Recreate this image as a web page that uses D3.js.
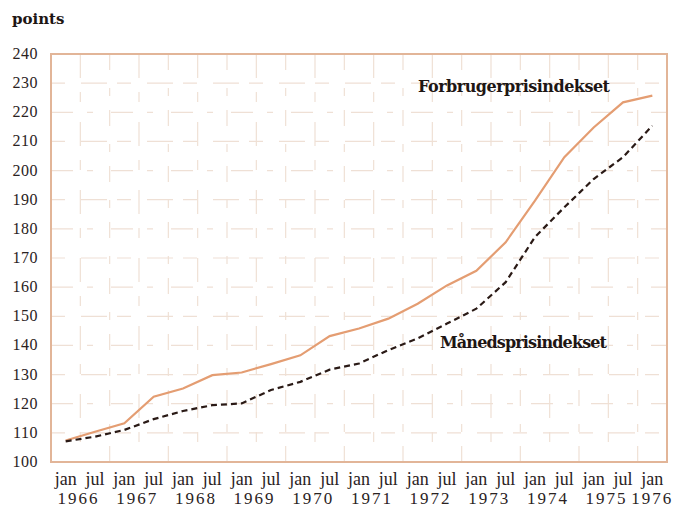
<!DOCTYPE html>
<html>
<head>
<meta charset="utf-8">
<script src="https://cdn.jsdelivr.net/npm/d3@7"></script>
<style>
  body { margin: 0; background: #fff; }
  text { font-family: "Liberation Serif", "DejaVu Serif", serif; fill: #2a2222; }
  text.bold { font-family: "DejaVu Serif", serif; font-weight: bold; fill: #1e1614; }
</style>
</head>
<body>
<svg width="673" height="512"></svg>
<script>
// half-year points, jan 1966 .. jan 1976
const periods = ["jan 1966", "jul 1966", "jan 1967", "jul 1967", "jan 1968", "jul 1968",
  "jan 1969", "jul 1969", "jan 1970", "jul 1970", "jan 1971", "jul 1971", "jan 1972",
  "jul 1972", "jan 1973", "jul 1973", "jan 1974", "jul 1974", "jan 1975", "jul 1975", "jan 1976"];

const forbruger = [107.4, 110.4, 113.3, 122.4, 125.2, 129.8, 130.7, 133.6, 136.6, 143.2,
  145.8, 149.2, 154.3, 160.6, 165.6, 175.4, 189.7, 204.6, 214.8, 223.4, 225.7];

const maaneds = [107.1, 108.7, 111.0, 114.7, 117.5, 119.5, 120.1, 124.7, 127.5, 131.7,
  133.8, 138.4, 142.4, 147.5, 152.6, 161.7, 177.2, 187.4, 197.1, 204.6, 215.4];

const yTicks = [100, 110, 120, 130, 140, 150, 160, 170, 180, 190, 200, 210, 220, 230, 240];
const years = ["1966", "1967", "1968", "1969", "1970", "1971", "1972", "1973", "1974", "1975", "1976"];

const toYear = p => {
  const [m, y] = p.split(" ");
  return +y + (m === "jul" ? 0.5 : 0);
};

const plotLeft = 51, plotRight = 667, plotTop = 54, plotBottom = 462;

const xScale = d3.scaleLinear().domain([1965.75, 1976.25]).range([plotLeft, plotRight]);
const yScale = d3.scaleLinear().domain([100, 240]).range([plotBottom, plotTop]);

const svg = d3.select("svg");

const gridColor = "#efe0d5";

// horizontal grid, broken like the printed paper grid
svg.append("g")
  .selectAll("line")
  .data(yTicks.slice(1, -1))
  .enter()
  .append("line")
  .attr("x1", plotLeft).attr("x2", plotRight)
  .attr("y1", d => yScale(d)).attr("y2", d => yScale(d))
  .attr("stroke", gridColor)
  .attr("stroke-width", 1.2)
  .attr("stroke-dasharray", (d, i) => i % 2 ? "22,14,6,18" : "14,16,26,10");

// vertical grid sits between the jan/jul ticks
const gridX = d3.range(1966.25, 1976, 0.5);
svg.append("g")
  .selectAll("line")
  .data(gridX)
  .enter()
  .append("line")
  .attr("x1", d => xScale(d)).attr("x2", d => xScale(d))
  .attr("y1", plotTop).attr("y2", plotBottom)
  .attr("stroke", gridColor)
  .attr("stroke-width", 1.2)
  .attr("stroke-dasharray", (d, i) => i % 2 ? "16,18,8,14" : "24,14,10,20");

// frame
svg.append("rect")
  .attr("x", plotLeft).attr("y", plotTop)
  .attr("width", plotRight - plotLeft).attr("height", plotBottom - plotTop)
  .attr("fill", "none")
  .attr("stroke", "#e2b598")
  .attr("stroke-width", 2);

const line = d3.line()
  .x((d, i) => xScale(toYear(periods[i])))
  .y(d => yScale(d));

svg.append("path")
  .datum(forbruger)
  .attr("fill", "none")
  .attr("stroke", "#e49d72")
  .attr("stroke-width", 2.2)
  .attr("d", line);

svg.append("path")
  .datum(maaneds)
  .attr("fill", "none")
  .attr("stroke", "#2a1a16")
  .attr("stroke-width", 2.2)
  .attr("stroke-dasharray", "6,4")
  .attr("d", line);

// y labels
svg.append("g")
  .selectAll("text")
  .data(yTicks)
  .enter()
  .append("text")
  .attr("x", 38)
  .attr("y", d => yScale(d) + 5)
  .attr("text-anchor", "end")
  .attr("font-size", 16)
  .attr("letter-spacing", 0.5)
  .text(d => d);

svg.append("text")
  .attr("class", "bold")
  .attr("x", 12).attr("y", 24)
  .attr("font-size", 15)
  .text("points");

// x labels
svg.append("g")
  .selectAll("text")
  .data(periods)
  .enter()
  .append("text")
  .attr("x", d => xScale(toYear(d)))
  .attr("y", 485)
  .attr("text-anchor", "middle")
  .attr("font-size", 18)
  .text(d => d.split(" ")[0]);

svg.append("g")
  .selectAll("text")
  .data(years)
  .enter()
  .append("text")
  .attr("x", d => xScale(d === "1976" ? +d : +d + 0.22))
  .attr("y", 504)
  .attr("text-anchor", "middle")
  .attr("font-size", 17)
  .attr("letter-spacing", 2)
  .text(d => d);

// series labels
svg.append("text")
  .attr("class", "bold")
  .attr("x", 418).attr("y", 92)
  .attr("font-size", 16)
  .attr("textLength", 192)
  .text("Forbrugerprisindekset");

svg.append("text")
  .attr("class", "bold")
  .attr("x", 440).attr("y", 348)
  .attr("font-size", 16)
  .attr("textLength", 167)
  .text("Månedsprisindekset");
</script>
</body>
</html>
